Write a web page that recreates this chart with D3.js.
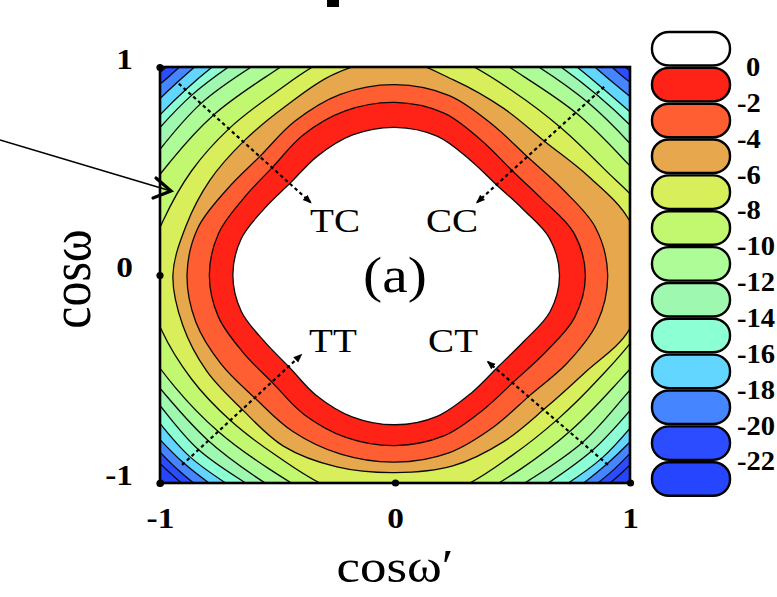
<!DOCTYPE html>
<html><head><meta charset="utf-8">
<script src="https://cdn.jsdelivr.net/npm/d3@7"></script>
<style>html,body{margin:0;padding:0;background:#fff;} svg{display:block;}</style>
</head><body>
<svg id="chart" width="777" height="597"></svg>
<script>
// ---- data ----
const levels = [0, -2, -4, -6, -8, -10, -12, -14, -16, -18, -20, -22];
const legendLabels = ["0", "-2", "-4", "-6", "-8", "-10", "-12", "-14", "-16", "-18", "-20", "-22"];
// contour radius (data units from centre) at each angle (degrees, 0 = +cosω′ axis)
const angles = [0, 15, 30, 45, 60, 75, 90, 105, 120, 135, 150, 165, 180, 195, 210, 225, 240, 255, 270, 285, 300, 315, 330, 345];
const r_0   = [0.70, 0.681, 0.630, 0.612, 0.639, 0.691, 0.71, 0.697, 0.660, 0.628, 0.641, 0.677, 0.69, 0.677, 0.641, 0.632, 0.669, 0.706, 0.72, 0.702, 0.653, 0.622, 0.635, 0.683];
const r_2   = [0.81, 0.787, 0.725, 0.707, 0.743, 0.806, 0.83, 0.817, 0.779, 0.735, 0.742, 0.777, 0.79, 0.778, 0.746, 0.735, 0.774, 0.808, 0.82, 0.801, 0.749, 0.72, 0.740, 0.791];
const r_4   = [0.905, 0.883, 0.824, 0.80, 0.833, 0.893, 0.915, 0.899, 0.853, 0.81, 0.825, 0.869, 0.885, 0.877, 0.855, 0.84, 0.869, 0.892, 0.90, 0.885, 0.842, 0.815, 0.846, 0.890];
const r_6   = [1.06, 1.03, 0.95, 0.905, 0.925, 0.97, 1.04, 1.0, 0.935, 0.91, 0.91, 0.92, 0.945, 0.935, 0.925, 0.917, 0.95, 0.955, 0.95, 0.95, 0.925, 0.905, 0.935, 1.03];
const r_8   = [1.15, 1.11, 1.025, 1.0, 1.015, 1.07, 1.12, 1.08, 1.015, 0.997, 1.0, 1.02, 1.07, 1.028, 1.0, 0.99, 1.005, 1.06, 1.09, 1.06, 1.0, 0.98, 1.0, 1.07];
const r_10  = [1.25, 1.2, 1.12, 1.096, 1.10, 1.16, 1.22, 1.16, 1.1, 1.09, 1.1, 1.15, 1.2, 1.13, 1.08, 1.064, 1.075, 1.13, 1.2, 1.13, 1.075, 1.058, 1.075, 1.15];
const r_12  = [1.32, 1.27, 1.19, 1.167, 1.175, 1.23, 1.3, 1.23, 1.175, 1.167, 1.17, 1.22, 1.28, 1.2, 1.135, 1.125, 1.14, 1.2, 1.28, 1.2, 1.14, 1.133, 1.14, 1.22];
const r_14  = [1.38, 1.33, 1.25, 1.22, 1.235, 1.3, 1.36, 1.3, 1.235, 1.223, 1.235, 1.3, 1.36, 1.27, 1.185, 1.185, 1.19, 1.27, 1.34, 1.27, 1.2, 1.19, 1.2, 1.28];
const r_16  = [1.44, 1.39, 1.3, 1.26, 1.285, 1.35, 1.42, 1.35, 1.285, 1.26, 1.275, 1.34, 1.42, 1.32, 1.235, 1.235, 1.24, 1.32, 1.4, 1.32, 1.25, 1.245, 1.25, 1.33];
const r_18  = [1.5, 1.45, 1.36, 1.31, 1.34, 1.4, 1.48, 1.4, 1.34, 1.31, 1.33, 1.4, 1.48, 1.38, 1.29, 1.275, 1.29, 1.38, 1.46, 1.38, 1.3, 1.28, 1.3, 1.38];
const r_20  = [1.55, 1.5, 1.42, 1.36, 1.4, 1.47, 1.53, 1.47, 1.4, 1.355, 1.4, 1.47, 1.54, 1.44, 1.33, 1.315, 1.34, 1.44, 1.52, 1.44, 1.34, 1.32, 1.33, 1.44];
const r_22  = [1.6, 1.55, 1.48, 1.40, 1.46, 1.52, 1.58, 1.52, 1.46, 1.395, 1.46, 1.52, 1.58, 1.48, 1.37, 1.35, 1.38, 1.48, 1.56, 1.48, 1.38, 1.355, 1.37, 1.48];
const xTicks = [-1, 0, 1];
const yTicks = [-1, 0, 1];
// annotations (data coordinates)
const labelNames = ["TC", "CC", "TT", "CT"];
const labelX = [-0.255, 0.243, -0.264, 0.247];
const labelY = [0.207, 0.207, -0.37, -0.37];
const arrowFromX = [-0.92, 0.89, -0.906, 0.906];
const arrowFromY = [0.92, 0.905, -0.913, -0.913];
const arrowToX = [-0.36, 0.35, -0.40, 0.396];
const arrowToY = [0.35, 0.35, -0.385, -0.418];
const panelLabel = "(a)";

// ---- styles ----
const bandColors = ["#ffffff", "#ff2216", "#ff5e32", "#e6a74d", "#d8ee5a", "#c2f870", "#aefc98",
                    "#9ff8b0", "#8cffd4", "#62d6ff", "#4585ff", "#2c4dff", "#2545ff"];
const radii = [r_0, r_2, r_4, r_6, r_8, r_10, r_12, r_14, r_16, r_18, r_20, r_22];
const serif = "'Liberation Serif','Times New Roman',serif";
const SX = 1.15; // horizontal stretch of the original figure's lettering

const svg = d3.select("#chart");
const x = d3.scaleLinear().domain([-1, 1]).range([160, 630]);
const y = d3.scaleLinear().domain([-1, 1]).range([483, 67]);
const ang = d3.scaleLinear().domain([0, 360]).range([0, 2 * Math.PI]);

const defs = svg.append("defs");
defs.append("clipPath").attr("id", "plotClip").append("rect")
  .attr("x", x(-1)).attr("y", y(1)).attr("width", x(1) - x(-1)).attr("height", y(-1) - y(1));
defs.append("marker").attr("id", "dotHead").attr("viewBox", "0 -5 10 10")
  .attr("refX", 8).attr("refY", 0).attr("markerWidth", 9).attr("markerHeight", 9)
  .attr("markerUnits", "userSpaceOnUse").attr("orient", "auto")
  .append("path").attr("d", "M0,-4L10,0L0,4Z").attr("fill", "#000");

// ---- filled contours ----
const contourLine = d3.line()
  .x(d => x(d.r * Math.cos(ang(d.a))))
  .y(d => y(d.r * Math.sin(ang(d.a))))
  .curve(d3.curveCatmullRomClosed.alpha(0.5));
const contourData = levels.map((lv, k) => ({ level: lv, k, pts: angles.map((a, i) => ({ a, r: radii[k][i] })) }));

const plot = svg.append("g").attr("clip-path", "url(#plotClip)");
plot.append("rect").attr("x", x(-1)).attr("y", y(1)).attr("width", x(1) - x(-1)).attr("height", y(-1) - y(1))
  .attr("fill", bandColors[levels.length]);
plot.selectAll("path.band").data(contourData.slice().reverse()).join("path")
  .attr("class", "band").attr("d", d => contourLine(d.pts)).attr("fill", d => bandColors[d.k]);
plot.selectAll("path.iso").data(contourData).join("path")
  .attr("class", "iso").attr("d", d => contourLine(d.pts)).attr("fill", "none")
  .attr("stroke", "#0a0a0a").attr("stroke-width", 1.3);

// dotted arrows from corners
const arrows = labelNames.map((n, i) => ({ x1: arrowFromX[i], y1: arrowFromY[i], x2: arrowToX[i], y2: arrowToY[i] }));
svg.append("g").selectAll("line").data(arrows).join("line")
  .attr("x1", d => x(d.x1)).attr("y1", d => y(d.y1)).attr("x2", d => x(d.x2)).attr("y2", d => y(d.y2))
  .attr("stroke", "#000").attr("stroke-width", 2.2).attr("stroke-dasharray", "3.5,3")
  .attr("marker-end", "url(#dotHead)");

// frame
svg.append("rect").attr("x", x(-1)).attr("y", y(1)).attr("width", x(1) - x(-1)).attr("height", y(-1) - y(1))
  .attr("fill", "none").attr("stroke", "#000").attr("stroke-width", 2.6);

// labels inside
svg.append("g").selectAll("text").data(labelNames).join("text")
  .attr("transform", (d, i) => `translate(${x(labelX[i])},${y(labelY[i])}) scale(${SX},1)`)
  .attr("text-anchor", "middle").attr("font-family", serif).attr("font-size", 34)
  .attr("fill", "#000").text(d => d);
svg.append("text").attr("transform", `translate(${x(0)},292) scale(${SX},1)`)
  .attr("text-anchor", "middle").attr("font-family", serif).attr("font-size", 50).text(panelLabel);

// axes
const gx = svg.append("g").attr("transform", `translate(0,${y(-1)})`)
  .call(d3.axisBottom(x).tickValues(xTicks).tickSize(0).tickFormat(d => String(d)));
gx.select(".domain").remove();
gx.selectAll(".tick text").attr("y", null).attr("dy", null)
  .attr("transform", `translate(0,45) scale(${SX},1)`)
  .attr("font-family", serif).attr("font-size", 29).attr("font-weight", "bold").attr("fill", "#000");
gx.selectAll(".tick").append("circle").attr("r", 3.6).attr("fill", "#000");

const gy = svg.append("g").attr("transform", `translate(${x(-1)},0)`)
  .call(d3.axisLeft(y).tickValues(yTicks).tickSize(0).tickFormat(d => String(d)));
gy.select(".domain").remove();
gy.selectAll(".tick text").attr("x", null).attr("dy", null)
  .attr("transform", `translate(-27,1) scale(${SX},1)`).attr("text-anchor", "end")
  .attr("font-family", serif).attr("font-size", 29).attr("font-weight", "bold").attr("fill", "#000");
gy.selectAll(".tick").append("circle").attr("r", 3.6).attr("fill", "#000");

// axis titles
svg.append("text").attr("transform", `translate(${x(0)},582) scale(${SX},1)`)
  .attr("text-anchor", "middle").attr("font-family", serif).attr("font-size", 46).text("cosω′");
svg.append("text").attr("transform", `translate(90,279) scale(${SX},1) rotate(-90)`)
  .attr("text-anchor", "middle").attr("font-family", serif).attr("font-size", 50).text("cosω");

// legend
const legTop = 32, legPitch = 35.85, legH = 33.5;
const lg = svg.append("g");
lg.selectAll("rect").data(bandColors).join("rect")
  .attr("x", 652).attr("y", (d, i) => legTop + i * legPitch).attr("width", 78).attr("height", legH)
  .attr("rx", 17).attr("ry", 16).attr("fill", d => d).attr("stroke", "#000").attr("stroke-width", 2.4);
lg.selectAll("text").data(legendLabels).join("text")
  .attr("transform", (d, i) => `translate(${737 + (d.startsWith("-") ? 0 : 9)},${legTop + legH + 10.5 + i * legPitch}) scale(1.02,1)`)
  .attr("font-family", serif).attr("font-size", 28).attr("font-weight", "bold").attr("fill", "#000")
  .text(d => d);

// pointer arrow from the left
const pg = svg.append("g").attr("stroke", "#000").attr("fill", "none");
pg.append("line").attr("x1", 0).attr("y1", 140).attr("x2", 171).attr("y2", 191).attr("stroke-width", 1.6);
pg.append("path").attr("d", "M156,178L171,191L153,198").attr("stroke-width", 3.2)
  .attr("stroke-linecap", "round").attr("stroke-linejoin", "miter");

// cut-off mark at the top
svg.append("rect").attr("x", 327).attr("y", 0).attr("width", 12).attr("height", 7).attr("fill", "#000");
</script>
</body></html>
